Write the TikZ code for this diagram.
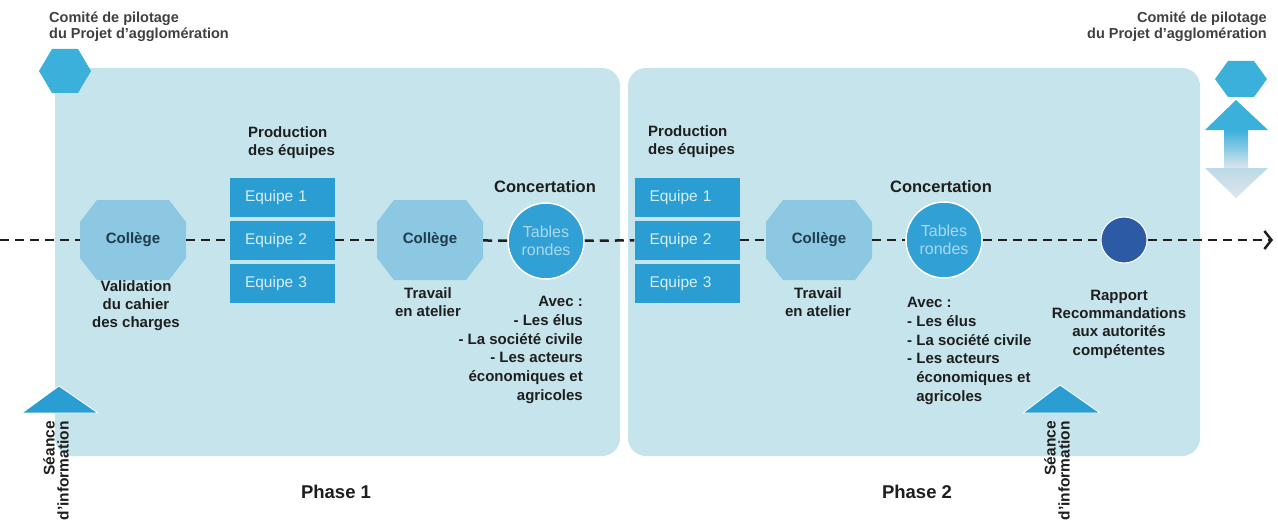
\documentclass[tikz,border=0pt]{standalone}
\usepackage{fontspec}
\setmainfont{Liberation Sans}
\usetikzlibrary{arrows.meta,calc}
\definecolor{panel}{HTML}{C6E4EB}
\definecolor{hexc}{HTML}{3AB0DA}
\definecolor{eqc}{HTML}{2A9DD2}
\definecolor{octc}{HTML}{8CC8E1}
\definecolor{tabc}{HTML}{30A0D5}
\definecolor{tabtxt}{HTML}{A9D9EF}
\definecolor{darkc}{HTML}{2D5AA5}
\definecolor{txt}{HTML}{1E1E1E}
\definecolor{eqtxt}{HTML}{D6EEF8}
\definecolor{octtxt}{HTML}{1F3A4D}
\definecolor{arrowlow}{HTML}{DCE6EC}
\definecolor{arrowhead}{HTML}{D3E1EA}
\begin{document}
\begin{tikzpicture}[x=1pt,y=-1pt,
  every node/.style={inner sep=0pt, text=txt, font=\bfseries\fontsize{15}{18}\selectfont},
  panelbox/.style={fill=panel, rounded corners=18pt},
  toplab/.style={font=\bfseries\fontsize{14.5}{15.5}\selectfont, text=txt!85!white},
  eqbox/.style={fill=eqc, minimum width=105pt, minimum height=39pt, text width=75pt,
    inner xsep=15pt, inner ysep=0pt, align=left, text=eqtxt, font=\fontsize{15.5}{18}\selectfont},
  octnode/.style={fill=panel, minimum width=106pt, minimum height=80pt, text=octtxt,
    font=\bfseries\fontsize{15}{18}\selectfont,
    path picture={\fill[octc]
      ($(path picture bounding box.north west)+(17,0)$) --
      ($(path picture bounding box.north east)+(-17,0)$) --
      ($(path picture bounding box.north east)+(0,22)$) --
      ($(path picture bounding box.south east)+(0,-22)$) --
      ($(path picture bounding box.south east)+(-17,0)$) --
      ($(path picture bounding box.south west)+(17,0)$) --
      ($(path picture bounding box.south west)+(0,-22)$) --
      ($(path picture bounding box.north west)+(0,22)$) -- cycle;}},
  tabnode/.style={circle, fill=tabc, draw=white, line width=1.5pt, minimum size=76pt,
    align=center, text=tabtxt, font=\fontsize{16}{18.5}\selectfont},
  darknode/.style={circle, fill=darkc, draw=white, line width=1pt, minimum size=46pt},
  head/.style={font=\bfseries\fontsize{16.5}{18}\selectfont},
  body/.style={align=center},
  listtxt/.style={font=\bfseries\fontsize{15}{18.8}\selectfont},
  phase/.style={font=\bfseries\fontsize{18.5}{20}\selectfont},
  seance/.style={rotate=90, align=right, anchor=east, font=\bfseries\fontsize{15.5}{14}\selectfont},
  dline/.style={draw=txt, line width=2.5pt, dash pattern=on 9pt off 6pt},
  tri/.style={fill=eqc, draw=white, line width=0.8pt}
]
\useasboundingbox (0,0) rectangle (1278,527);
\fill[white] (0,0) rectangle (1278,527);

% panels
\fill[panelbox] (55,68) rectangle (620,456);
\fill[panelbox] (628,68) rectangle (1200,456);

% top hexagons
\fill[hexc] (39,71) -- (52,49) -- (78,49) -- (91,71) -- (78,93) -- (52,93) -- cycle;
\fill[hexc] (1215,79) -- (1228,61) -- (1254,61) -- (1267,79) -- (1254,97) -- (1228,97) -- cycle;

% double arrow
\fill[hexc] (1236,100) -- (1268,130) -- (1205,130) -- cycle;
\shade[top color=hexc, bottom color=arrowlow] (1224,130) rectangle (1248,168);
\shade[top color=arrowhead!85!hexc, bottom color=arrowlow] (1205,168) -- (1268,168) -- (1236,198) -- cycle;

% top labels
\node[toplab, anchor=north west, align=left] (cl) at (49,12) {Comité de pilotage\\du Projet d'agglomération};
\node[toplab, anchor=north east, align=right] (cr) at (1267,12) {Comité de pilotage\\du Projet d'agglomération};

% séance triangles
\fill[tri] (22,413) -- (59,386) -- (98,413) -- cycle;
\fill[tri] (1023,413) -- (1060,385) -- (1100,413) -- cycle;
\node[seance] (s1) at (56,421) {Séance\\d'information};
\node[seance] (s2) at (1057,421) {Séance\\d'information};

% phase 1
\node[octnode] (c1) at (133,240) {Collège};
\node[body] (v1) at (136,306) {Validation\\du cahier\\des charges};
\node[anchor=west, align=left] (p1) at (248,143) {Production\\des équipes};
\node[eqbox] (e11) at (282.5,197) {Equipe 1};
\node[eqbox] (e12) at (282.5,240) {Equipe 2};
\node[eqbox] (e13) at (282.5,283) {Equipe 3};
\node[octnode] (c2) at (430,240) {Collège};
\node[body] (w1) at (428,302) {Travail\\en atelier};
\node[head] (k1) at (545,187) {Concertation};
\node[tabnode] (t1) at (546,241) {Tables\\rondes};
\node[listtxt, anchor=east, align=right] (a1) at (583,350) {Avec :\\- Les élus\\- La société civile\\- Les acteurs\\économiques et\\agricoles};
\node[phase] (ph1) at (336,492) {Phase 1};

% phase 2
\node[anchor=west, align=left] (p2) at (648,142) {Production\\des équipes};
\node[eqbox] (e21) at (687,197) {Equipe 1};
\node[eqbox] (e22) at (687,240) {Equipe 2};
\node[eqbox] (e23) at (687,283) {Equipe 3};
\node[octnode] (c3) at (819,240) {Collège};
\node[body] (w2) at (818,302) {Travail\\en atelier};
\node[head] (k2) at (941,187) {Concertation};
\node[tabnode] (t2) at (944,240) {Tables\\rondes};
\node[listtxt, anchor=west, align=left] (a2) at (907,351) {Avec :\\- Les élus\\- La société civile\\- Les acteurs\\\phantom{- }économiques et\\\phantom{- }agricoles};
\node[darknode] (rap) at (1124,240) {};
\node[body, font=\bfseries\fontsize{15}{18.3}\selectfont] (r1) at (1119,324) {Rapport\\Recommandations\\aux autorités\\compétentes};
\node[phase] (ph2) at (917,492) {Phase 2};

% timeline
\coordinate (lstart) at (0,240);
\coordinate (lend) at (1273,240);
\draw[dline] (lstart) -- (c1);
\draw[dline] (c1) -- (e12);
\draw[dline] (e12) -- (c2);
\draw[dline] (c2) -- (t1);
\draw[dline] (t1) -- (e22);
\draw[dline] (e22) -- (c3);
\draw[dline] (c3) -- (t2);
\draw[dline] (t2) -- (rap);
\draw[dline, -{Straight Barb[length=7pt,width=18pt]}] (rap) -- (lend);
\end{tikzpicture}
\end{document}
